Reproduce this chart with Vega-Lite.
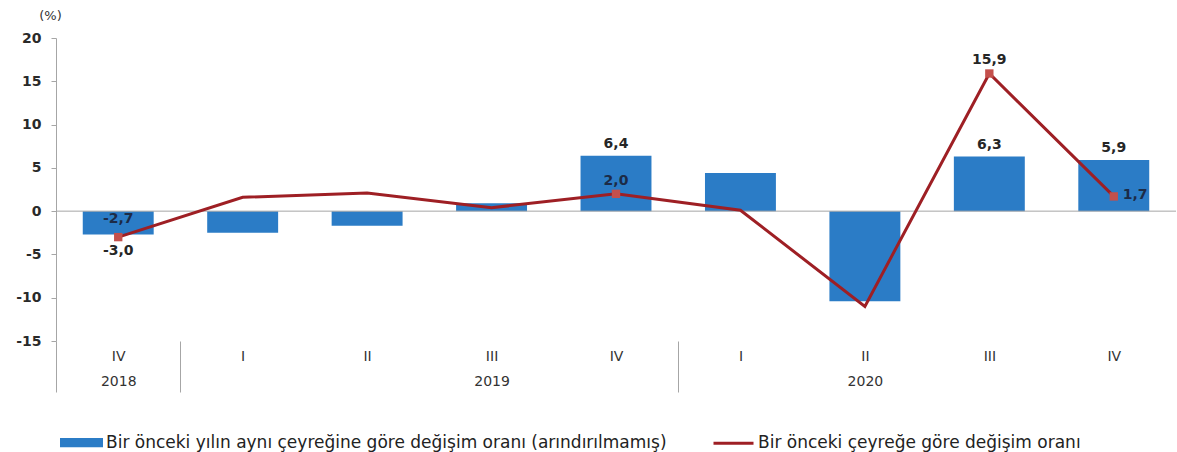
{
  "$schema": "https://vega.github.io/schema/vega-lite/v6.json",
  "width": 1120,
  "height": 303,
  "autosize": {"type": "none"},
  "padding": {"left": 56, "top": 38, "right": 1, "bottom": 111},
  "background": "white",
  "config": {
    "view": {"stroke": null},
    "font": "DejaVu Sans",
    "text": {"font": "DejaVu Sans"}
  },
  "data": {
    "values": [
      {"period": "2018 IV", "series": "Bir önceki yılın aynı çeyreğine göre değişim oranı (arındırılmamış)", "value": -2.7},
      {"period": "2019 I", "series": "Bir önceki yılın aynı çeyreğine göre değişim oranı (arındırılmamış)", "value": -2.5},
      {"period": "2019 II", "series": "Bir önceki yılın aynı çeyreğine göre değişim oranı (arındırılmamış)", "value": -1.7},
      {"period": "2019 III", "series": "Bir önceki yılın aynı çeyreğine göre değişim oranı (arındırılmamış)", "value": 0.9},
      {"period": "2019 IV", "series": "Bir önceki yılın aynı çeyreğine göre değişim oranı (arındırılmamış)", "value": 6.4},
      {"period": "2020 I", "series": "Bir önceki yılın aynı çeyreğine göre değişim oranı (arındırılmamış)", "value": 4.4},
      {"period": "2020 II", "series": "Bir önceki yılın aynı çeyreğine göre değişim oranı (arındırılmamış)", "value": -10.4},
      {"period": "2020 III", "series": "Bir önceki yılın aynı çeyreğine göre değişim oranı (arındırılmamış)", "value": 6.3},
      {"period": "2020 IV", "series": "Bir önceki yılın aynı çeyreğine göre değişim oranı (arındırılmamış)", "value": 5.9},
      {"period": "2018 IV", "series": "Bir önceki çeyreğe göre değişim oranı", "value": -3.0},
      {"period": "2019 I", "series": "Bir önceki çeyreğe göre değişim oranı", "value": 1.6},
      {"period": "2019 II", "series": "Bir önceki çeyreğe göre değişim oranı", "value": 2.1},
      {"period": "2019 III", "series": "Bir önceki çeyreğe göre değişim oranı", "value": 0.4},
      {"period": "2019 IV", "series": "Bir önceki çeyreğe göre değişim oranı", "value": 2.0},
      {"period": "2020 I", "series": "Bir önceki çeyreğe göre değişim oranı", "value": 0.1},
      {"period": "2020 II", "series": "Bir önceki çeyreğe göre değişim oranı", "value": -11.0},
      {"period": "2020 III", "series": "Bir önceki çeyreğe göre değişim oranı", "value": 15.9},
      {"period": "2020 IV", "series": "Bir önceki çeyreğe göre değişim oranı", "value": 1.7}
    ]
  },
  "transform": [
    {"calculate": "replace(replace(format(datum.value, '.1f'), '.', ','), '\u2212', '-')", "as": "label"}
  ],
  "layer": [
    {
      "mark": {"type": "bar", "color": "#2b7cc6"},
      "transform": [{"filter": "indexof(datum.series, 'yılın') >= 0"}],
      "encoding": {
        "x": {
          "field": "period", "type": "ordinal",
          "sort": ["2018 IV", "2019 I", "2019 II", "2019 III", "2019 IV", "2020 I", "2020 II", "2020 III", "2020 IV"],
          "scale": {"paddingInner": 0.43, "paddingOuter": 0.215},
          "axis": {
            "title": null,
            "domain": false,
            "labelAngle": 0,
            "bandPosition": 0,
            "tickOffset": -26.76,
            "labelOffset": 26.76,
            "tickSize": 51,
            "tickWidth": 1,
            "tickColor": "#a6a6a6",
            "tickOpacity": {"condition": {"test": "datum.value === '2018 IV' || datum.value === '2019 I' || datum.value === '2020 I'", "value": 1}, "value": 0},
            "labelPadding": -43,
            "labelAlign": "center",
            "labelBaseline": "top",
            "labelLineHeight": 25,
            "labelFont": "DejaVu Sans",
            "labelFontSize": 14,
            "labelColor": "#333333",
            "labelExpr": "datum.value === '2018 IV' ? ['IV', '2018'] : datum.value === '2019 III' ? ['III', '2019'] : datum.value === '2020 II' ? ['II', '2020'] : split(datum.value, ' ')[1]"
          }
        },
        "y": {
          "field": "value", "type": "quantitative",
          "scale": {"domain": [-15, 20], "nice": false, "zero": false},
          "axis": {
            "values": [-15, -10, -5, 0, 5, 10, 15, 20],
            "labelExpr": "replace(datum.label, '\u2212', '-')",
            "grid": false,
            "domainColor": "#a6a6a6",
            "tickColor": "#a6a6a6",
            "tickSize": 5,
            "labelPadding": 10,
            "labelFont": "DejaVu Sans",
            "labelFontSize": 14,
            "labelFontWeight": "bold",
            "labelColor": "#2a2a2a",
            "title": "(%)",
            "titleAngle": 0,
            "titleX": -6,
            "titleY": -23,
            "titleAlign": "center",
            "titleBaseline": "middle",
            "titleFont": "DejaVu Sans",
            "titleFontSize": 13,
            "titleFontWeight": "normal",
            "titleColor": "#333333"
          }
        },
        "color": {
          "field": "series", "type": "nominal",
          "scale": {
            "domain": ["Bir önceki yılın aynı çeyreğine göre değişim oranı (arındırılmamış)", "Bir önceki çeyreğe göre değişim oranı"],
            "range": ["#2b7cc6", "#9e1f24"]
          },
          "legend": {
            "orient": "none",
            "legendX": 4,
            "legendY": 383,
            "direction": "horizontal",
            "title": null,
            "padding": 0,
            "symbolSize": 1600,
            "labelFont": "DejaVu Sans",
            "labelFontSize": 17,
            "labelColor": "#222222",
            "labelLimit": 900,
            "labelOffset": 3,
            "columnPadding": 40,
            "encode": {
              "symbols": {
                "update": {
                  "shape": {"signal": "indexof(datum.value, 'yılın') >= 0 ? 'M-1,-0.16H1V0.16H-1Z' : 'M-1,0H1'"},
                  "fill": {"signal": "indexof(datum.value, 'yılın') >= 0 ? '#2b7cc6' : 'transparent'"},
                  "stroke": {"signal": "indexof(datum.value, 'yılın') >= 0 ? 'transparent' : '#9e1f24'"},
                  "strokeWidth": {"value": 3},
                  "opacity": {"value": 1}
                }
              }
            }
          }
        }
      }
    },
    {
      "data": {"values": [{"zero": 0}]},
      "mark": {"type": "rule", "color": "#a6a6a6", "strokeWidth": 1},
      "encoding": {"y": {"field": "zero", "type": "quantitative"}}
    },
    {
      "mark": {"type": "line", "strokeWidth": 3, "color": "#9e1f24"},
      "transform": [{"filter": "indexof(datum.series, 'yılın') < 0"}],
      "encoding": {
        "x": {"field": "period", "type": "ordinal", "sort": ["2018 IV", "2019 I", "2019 II", "2019 III", "2019 IV", "2020 I", "2020 II", "2020 III", "2020 IV"]},
        "y": {"field": "value", "type": "quantitative"},
        "color": {"field": "series", "type": "nominal"}
      }
    },
    {
      "mark": {"type": "point", "shape": "square", "filled": true, "size": 70, "color": "#c4504c", "opacity": 1},
      "transform": [
        {"filter": "indexof(datum.series, 'yılın') < 0"},
        {"filter": {"field": "period", "oneOf": ["2018 IV", "2019 IV", "2020 III", "2020 IV"]}}
      ],
      "encoding": {
        "x": {"field": "period", "type": "ordinal", "sort": ["2018 IV", "2019 I", "2019 II", "2019 III", "2019 IV", "2020 I", "2020 II", "2020 III", "2020 IV"]},
        "y": {"field": "value", "type": "quantitative"}
      }
    },
    {
      "mark": {"type": "text", "baseline": "bottom", "dy": -5, "fontSize": 14, "fontWeight": "bold", "color": "#262626"},
      "transform": [
        {"filter": "indexof(datum.series, 'yılın') >= 0"},
        {"filter": {"field": "period", "oneOf": ["2019 IV", "2020 III", "2020 IV"]}}
      ],
      "encoding": {
        "x": {"field": "period", "type": "ordinal", "sort": ["2018 IV", "2019 I", "2019 II", "2019 III", "2019 IV", "2020 I", "2020 II", "2020 III", "2020 IV"]},
        "y": {"field": "value", "type": "quantitative"},
        "text": {"field": "label"}
      }
    },
    {
      "mark": {"type": "text", "baseline": "top", "dy": 1, "fontSize": 14, "fontWeight": "bold", "color": "#1c2b47"},
      "transform": [
        {"filter": "indexof(datum.series, 'yılın') >= 0"},
        {"filter": {"field": "period", "equal": "2018 IV"}}
      ],
      "encoding": {
        "x": {"field": "period", "type": "ordinal", "sort": ["2018 IV", "2019 I", "2019 II", "2019 III", "2019 IV", "2020 I", "2020 II", "2020 III", "2020 IV"]},
        "y": {"datum": 0},
        "text": {"field": "label"}
      }
    },
    {
      "mark": {"type": "text", "baseline": "top", "dy": 7, "fontSize": 14, "fontWeight": "bold", "color": "#262626"},
      "transform": [
        {"filter": "indexof(datum.series, 'yılın') < 0"},
        {"filter": {"field": "period", "equal": "2018 IV"}}
      ],
      "encoding": {
        "x": {"field": "period", "type": "ordinal", "sort": ["2018 IV", "2019 I", "2019 II", "2019 III", "2019 IV", "2020 I", "2020 II", "2020 III", "2020 IV"]},
        "y": {"field": "value", "type": "quantitative"},
        "text": {"field": "label"}
      }
    },
    {
      "mark": {"type": "text", "baseline": "bottom", "dy": -6, "fontSize": 14, "fontWeight": "bold", "color": "#1c2b47"},
      "transform": [
        {"filter": "indexof(datum.series, 'yılın') < 0"},
        {"filter": {"field": "period", "equal": "2019 IV"}}
      ],
      "encoding": {
        "x": {"field": "period", "type": "ordinal", "sort": ["2018 IV", "2019 I", "2019 II", "2019 III", "2019 IV", "2020 I", "2020 II", "2020 III", "2020 IV"]},
        "y": {"field": "value", "type": "quantitative"},
        "text": {"field": "label"}
      }
    },
    {
      "mark": {"type": "text", "baseline": "bottom", "dy": -6, "fontSize": 14, "fontWeight": "bold", "color": "#262626"},
      "transform": [
        {"filter": "indexof(datum.series, 'yılın') < 0"},
        {"filter": {"field": "period", "equal": "2020 III"}}
      ],
      "encoding": {
        "x": {"field": "period", "type": "ordinal", "sort": ["2018 IV", "2019 I", "2019 II", "2019 III", "2019 IV", "2020 I", "2020 II", "2020 III", "2020 IV"]},
        "y": {"field": "value", "type": "quantitative"},
        "text": {"field": "label"}
      }
    },
    {
      "mark": {"type": "text", "align": "left", "baseline": "middle", "dx": 9, "dy": -1, "fontSize": 14, "fontWeight": "bold", "color": "#1c2b47"},
      "transform": [
        {"filter": "indexof(datum.series, 'yılın') < 0"},
        {"filter": {"field": "period", "equal": "2020 IV"}}
      ],
      "encoding": {
        "x": {"field": "period", "type": "ordinal", "sort": ["2018 IV", "2019 I", "2019 II", "2019 III", "2019 IV", "2020 I", "2020 II", "2020 III", "2020 IV"]},
        "y": {"field": "value", "type": "quantitative"},
        "text": {"field": "label"}
      }
    }
  ]
}
